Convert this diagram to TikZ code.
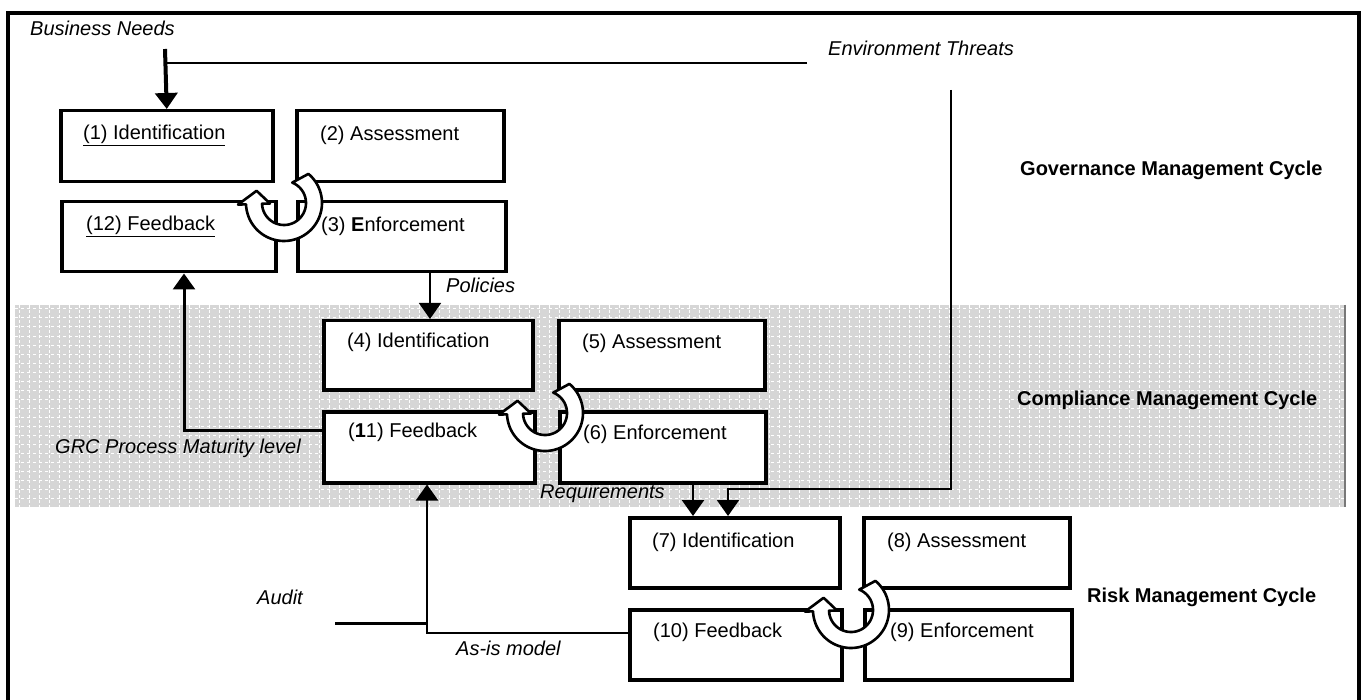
\documentclass[tikz,border=0pt]{standalone}
\usepackage{fontspec}
\setmainfont{Liberation Sans}
\usetikzlibrary{arrows.meta,calc}
\definecolor{bandgray}{RGB}{214,214,214}
\definecolor{bandline}{RGB}{120,120,120}
\begin{document}
\begin{tikzpicture}[x=1pt,y=-1pt,
  font=\fontsize{20}{24}\selectfont,
  box/.style={draw=black, line width=3.5pt, fill=white, inner sep=0pt, anchor=north west},
  lbl/.style={anchor=west, inner sep=0pt},
  ital/.style={lbl, font=\fontsize{20}{24}\selectfont\itshape},
  cyc/.style={lbl, font=\fontsize{20}{24}\selectfont\bfseries},
  arr/.style={-{Triangle[width=22pt,length=16pt]}},
  cycarrow/.pic={
    \path[draw=black, line width=2.6pt, fill=white, yscale=-1, line join=round]
      plot[domain=50:-178, samples=60] (\x:38)
      -- (-178:46) -- (-204:30) -- (-178:14)
      -- plot[domain=-178:68, samples=60] (\x:22) -- cycle;
  }
]
\useasboundingbox (0,0) rectangle (1367,700);
\clip (0,0) rectangle (1367,700);
\fill[white] (0,0) rectangle (1367,700);

% shaded compliance band
\fill[bandgray] (15,305) rectangle (1345,507);
\foreach \x in {19,29,...,1342}
  \draw[white, line width=1pt, dash pattern=on 3pt off 2pt] (\x,305) -- (\x,507);
\foreach \y in {309,318,...,506}
  \draw[white, line width=1pt, dash pattern=on 3pt off 3pt] (15,\y) -- (1345,\y);
\draw[bandline, line width=1.2pt] (1345,305) -- (1345,507);

% outer frame
\draw[line width=4pt] (8,705) -- (8,13) -- (1359,13) -- (1359,705);

% boxes
\node[box, minimum width=212pt, minimum height=71pt] (b1) at (59,109) {};
\node[box, minimum width=207pt, minimum height=71pt] (b2) at (295,109) {};
\node[box, minimum width=214pt, minimum height=70pt] (b12) at (60,200) {};
\node[box, minimum width=208pt, minimum height=70pt] (b3) at (296,200) {};
\node[box, minimum width=209pt, minimum height=69pt] (b4) at (322,319) {};
\node[box, minimum width=206pt, minimum height=69pt] (b5) at (557,319) {};
\node[box, minimum width=211pt, minimum height=71pt] (b11) at (322,410) {};
\node[box, minimum width=206pt, minimum height=71pt] (b6) at (558,410) {};
\node[box, minimum width=210pt, minimum height=70pt] (b7) at (628,516) {};
\node[box, minimum width=206pt, minimum height=70pt] (b8) at (862,516) {};
\node[box, minimum width=212pt, minimum height=70pt] (b10) at (628,608) {};
\node[box, minimum width=207pt, minimum height=70pt] (b9) at (863,608) {};

% box texts
\node[lbl] (t1) at (83,135) {\underline{(1) Identification}};
\node[lbl] (t2) at (320,135) {(2) Assessment};
\node[lbl] (t12) at (86,226) {\underline{(12) Feedback}};
\node[lbl] (t3) at (321,226) {(3) \textbf{E}nforcement};
\node[lbl] (t4) at (347,342) {(4) Identification};
\node[lbl] (t5) at (582,343) {(5) Assessment};
\node[lbl] (t11) at (348,432) {(\textbf{1}1) Feedback};
\node[lbl] (t6) at (583,434) {(6) Enforcement};
\node[lbl] (t7) at (652,542) {(7) Identification};
\node[lbl] (t8) at (887,542) {(8) Assessment};
\node[lbl] (t10) at (653,632) {(10) Feedback};
\node[lbl] (t9) at (890,632) {(9) Enforcement};

% free labels
\node[ital] (bn) at (30,28) {Business Needs};
\node[ital] (et) at (828,48) {Environment Threats};
\node[ital] (pol) at (446,285) {Policies};
\node[ital] (req) at (540,493) {Requirements};
\node[ital] (grc) at (55,448) {GRC Process Maturity level};
\node[ital] (aud) at (257,597) {Audit};
\node[ital] (asis) at (456,648) {As-is model};
\node[cyc] (gov) at (1020,170) {Governance Management Cycle};
\node[cyc] (com) at (1017,400) {Compliance Management Cycle};
\node[cyc] (risk) at (1087,597) {Risk Management Cycle};

% connectors
\coordinate (bnstart) at (165,49);
\draw[line width=4pt, arr] (bnstart) -- (b1.north);
\coordinate (envend) at (807,63);
\draw[line width=2.6pt] (envend) -- (envend -| bnstart);

\coordinate (envtop) at (951,90);
\coordinate (envturn) at (728,489);
\draw[line width=2pt, arr] (envtop) |- (envturn) -- (envturn |- b7.north);

\coordinate (polx) at (430,0);
\draw[line width=1.8pt, arr] (b3.south -| polx) -- (b4.north -| polx);

\coordinate (reqx) at (693,0);
\draw[line width=2.4pt, arr] (b6.south -| reqx) -- (b7.north -| reqx);

\coordinate (grcy) at (0,430);
\coordinate (grcx) at (184,0);
\draw[line width=3pt, arr] (b11.west |- grcy) -| (b12.south -| grcx);

\coordinate (asy) at (0,633);
\coordinate (asx) at (427,0);
\draw[line width=2.4pt, arr] (b10.west |- asy) -| (b11.south -| asx);
\coordinate (auditstart) at (335,623);
\draw[line width=3pt] (auditstart) -- (auditstart -| asx);

% cycle arrows
\pic (cg) at (284,203) {cycarrow};
\pic (cc) at (545,413) {cycarrow};
\pic (cr) at (851,610) {cycarrow};
\end{tikzpicture}
\end{document}
